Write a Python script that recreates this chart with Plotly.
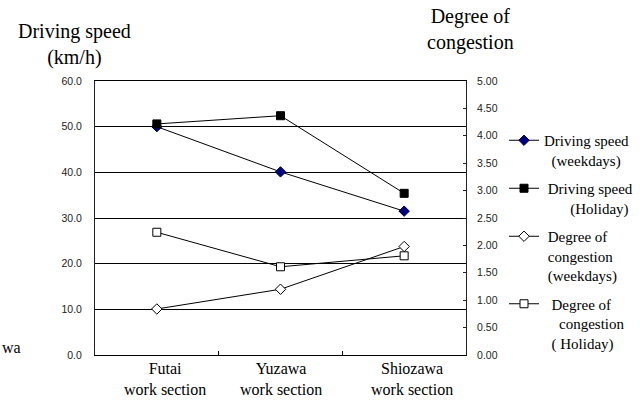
import plotly.graph_objects as go

sections = ["Futai", "Yuzawa", "Shiozawa"]
section_labels = ["Futai<br>work section", "Yuzawa<br>work section", "Shiozawa<br>work section"]
speed_weekdays = [50.0, 40.1, 31.5]
speed_holiday = [50.6, 52.4, 35.4]
cong_weekdays = [0.84, 1.20, 1.98]
cong_holiday = [2.24, 1.61, 1.81]

left_ticks = [0, 10, 20, 30, 40, 50, 60]
left_labels = ["0.0", "10.0", "20.0", "30.0", "40.0", "50.0", "60.0"]
right_ticks = [0, 0.5, 1, 1.5, 2, 2.5, 3, 3.5, 4, 4.5, 5]
right_labels = ["0.00", "0.50", "1.00", "1.50", "2.00", "2.50", "3.00", "3.50", "4.00", "4.50", "5.00"]

serif = "Liberation Serif, DejaVu Serif, serif"
sans = "Liberation Sans, Arial, sans-serif"
S = "\u00a0"

ML, MR, MT, MB = 95, 174, 81, 45
PW, PH = 640 - ML - MR, 400 - MT - MB


def px(x):
    return (x - ML) / PW


def py(y):
    return 1 - (y - MT) / PH


fig = go.Figure()
fig.add_trace(go.Scatter(
    x=sections, y=speed_weekdays, mode="lines+markers", legendgroup="a",
    name="Driving speed<br>" + S * 2 + "(weekdays)",
    line=dict(color="black", width=1),
    marker=dict(symbol="diamond", size=8, color="#000080", line=dict(color="#000040", width=1)),
))
fig.add_trace(go.Scatter(
    x=sections, y=speed_holiday, mode="lines+markers", legendgroup="b",
    name=S + "Driving speed<br>" + S * 7 + "(Holiday)",
    line=dict(color="black", width=1),
    marker=dict(symbol="square", size=8, color="black", line=dict(color="black", width=1)),
))
fig.add_trace(go.Scatter(
    x=sections, y=cong_weekdays, mode="lines+markers", yaxis="y2", legendgroup="c",
    name=S + "Degree of<br>" + S + "congestion<br>" + S + "(weekdays)",
    line=dict(color="black", width=1),
    marker=dict(symbol="diamond", size=8, color="white", line=dict(color="black", width=1)),
))
fig.add_trace(go.Scatter(
    x=sections, y=cong_holiday, mode="lines+markers", yaxis="y2", legendgroup="d",
    name=S * 2 + "Degree of<br>" + S * 4 + "congestion<br>" + S * 2 + "( Holiday)",
    line=dict(color="black", width=1),
    marker=dict(symbol="square", size=8, color="white", line=dict(color="black", width=1)),
))

annotations = [
    dict(text="Driving speed<br>(km/h)", x=px(74), y=py(45)),
    dict(text="Degree of<br>congestion", x=px(470), y=py(29)),
]
for a in annotations:
    a.update(xref="paper", yref="paper", xanchor="center", yanchor="middle",
             showarrow=False, font=dict(family=serif, size=20, color="black"))

label_shift = [8, 0, 8]
for sec, lab, sh in zip(sections, section_labels, label_shift):
    annotations.append(dict(text=lab, x=sec, xref="x", y=py(358), yref="paper",
                            xanchor="center", yanchor="top", xshift=sh, showarrow=False,
                            font=dict(family=serif, size=16, color="black")))

annotations.append(dict(text="wa", x=px(0), y=py(347), xref="paper", yref="paper",
                        xanchor="left", yanchor="middle", showarrow=False,
                        font=dict(family=serif, size=16, color="black")))

fig.update_layout(
    width=640, height=400,
    margin=dict(l=ML, r=MR, t=MT, b=MB, autoexpand=False),
    paper_bgcolor="white", plot_bgcolor="white",
    showlegend=True,
    legend=dict(
        x=px(504), y=py(124), xanchor="left", yanchor="top",
        font=dict(family=serif, size=15, color="black"),
        bgcolor="rgba(0,0,0,0)", tracegroupgap=6, itemwidth=30, valign="top",
    ),
    xaxis=dict(
        type="category", range=[-0.5, 2.5], showgrid=False, showline=True,
        linecolor="black", linewidth=1, mirror=True,
        ticks="inside", ticklen=4, tickcolor="black", tickson="boundaries",
        showticklabels=False, automargin=False,
    ),
    yaxis=dict(
        range=[0, 60], tickvals=left_ticks, ticktext=left_labels,
        showgrid=True, gridcolor="black", gridwidth=1, zeroline=False,
        showline=True, linecolor="#222", linewidth=1, ticks="",
        ticklabelstandoff=10, automargin=False,
        tickfont=dict(family=sans, size=10.5, color="#222"),
    ),
    yaxis2=dict(
        range=[0, 5], tickvals=right_ticks, ticktext=right_labels,
        overlaying="y", side="right", showgrid=False, zeroline=False,
        showline=True, linecolor="#222", linewidth=1,
        ticks="inside", ticklen=3, tickcolor="#222",
        ticklabelstandoff=8, automargin=False,
        tickfont=dict(family=sans, size=10.5, color="#222"),
    ),
    annotations=annotations,
)

fig.write_html("out.html")
